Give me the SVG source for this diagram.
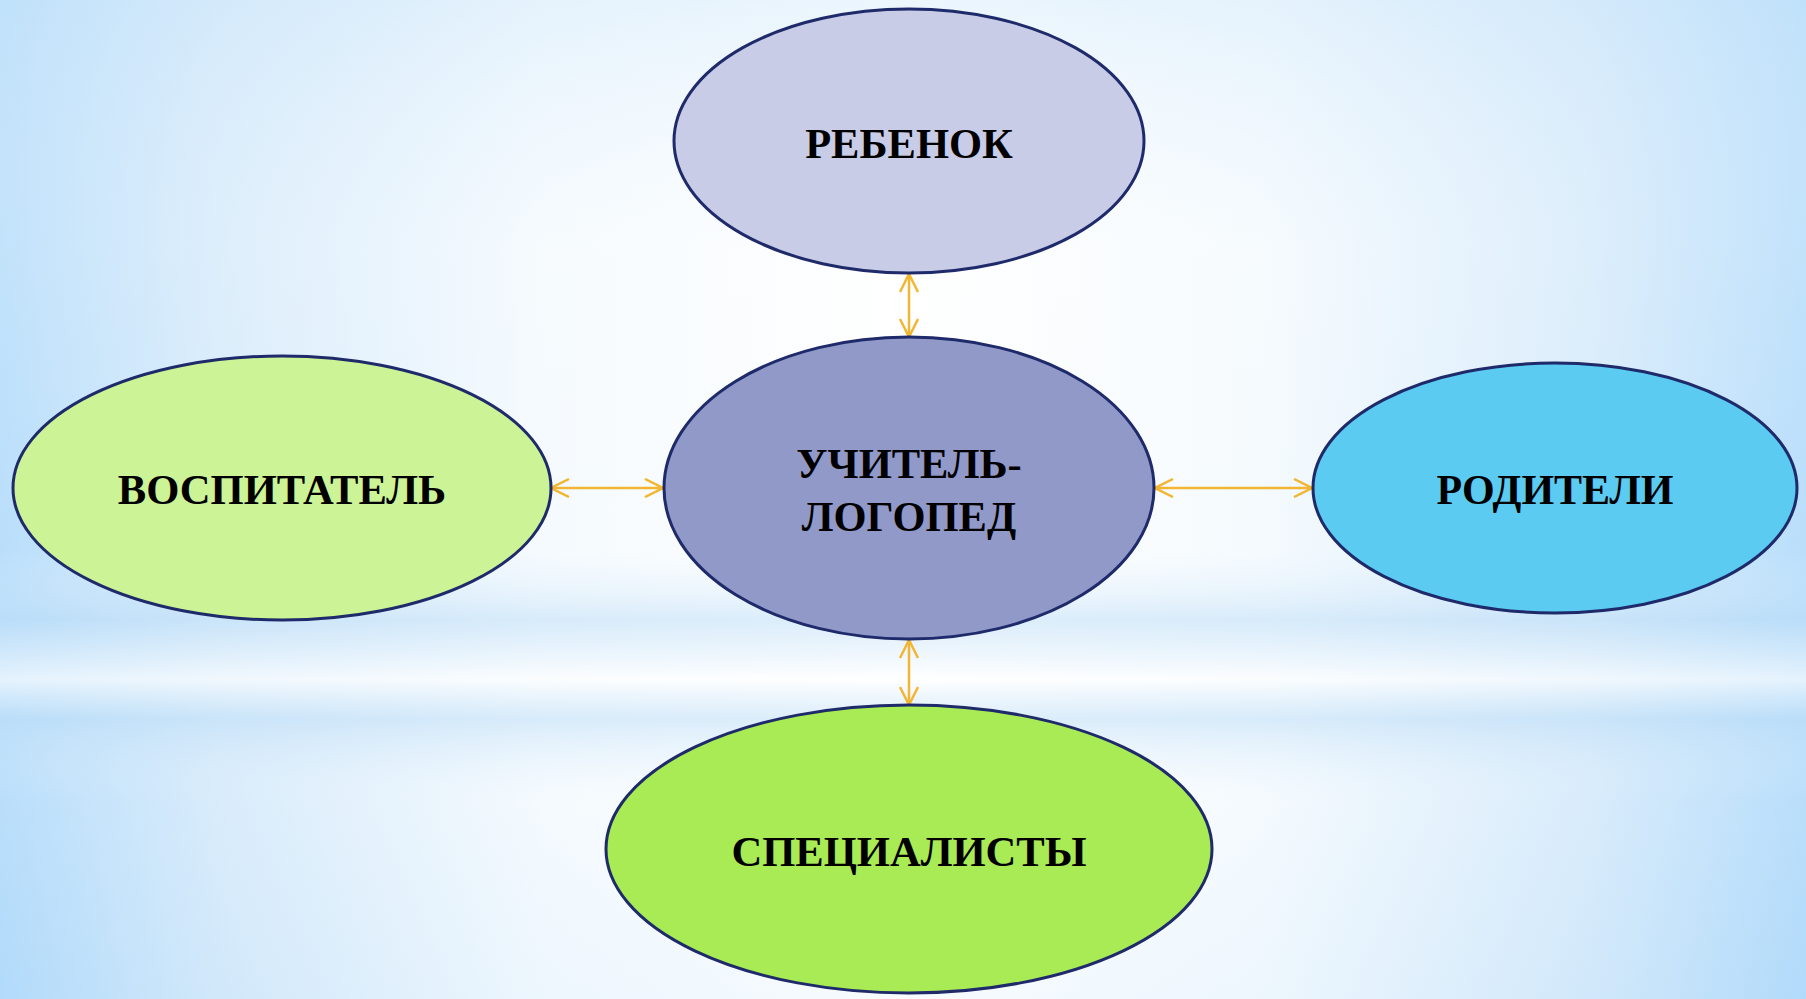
<svg xmlns="http://www.w3.org/2000/svg" width="1806" height="999" viewBox="0 0 1806 999">
<style>
.node{stroke:#1E2A6A;stroke-width:3}
.lbl{font-family:"Liberation Serif","Times New Roman",serif;font-weight:bold;fill:#000;text-anchor:middle}
.conn{stroke:#F2B632;stroke-width:2.5;fill:none;marker-start:url(#arr);marker-end:url(#arr)}
</style>
<defs>
<linearGradient id="bgH" x1="0" y1="0" x2="1" y2="0">
<stop offset="0" stop-color="#A8D6FA"/>
<stop offset="0.12" stop-color="#CFE7FA"/>
<stop offset="0.3" stop-color="#F2F9FE"/>
<stop offset="0.5" stop-color="#FFFFFF"/>
<stop offset="0.7" stop-color="#F2F9FE"/>
<stop offset="0.88" stop-color="#CFE7FA"/>
<stop offset="1" stop-color="#A8D6FA"/>
</linearGradient>
<linearGradient id="bgV" x1="0" y1="0" x2="0" y2="1">
<stop offset="0" stop-color="#D8ECFB" stop-opacity="0.5"/>
<stop offset="0.25" stop-color="#FFFFFF" stop-opacity="0.3"/>
<stop offset="0.55" stop-color="#FFFFFF" stop-opacity="0.2"/>
<stop offset="0.62" stop-color="#C6E2F8" stop-opacity="0.6"/>
<stop offset="0.68" stop-color="#FFFFFF" stop-opacity="0.7"/>
<stop offset="0.72" stop-color="#C6E2F8" stop-opacity="0.6"/>
<stop offset="0.8" stop-color="#FFFFFF" stop-opacity="0.2"/>
<stop offset="1" stop-color="#D8ECFB" stop-opacity="0.2"/>
</linearGradient>
<marker id="arr" viewBox="0 0 20 20" refX="19" refY="10" markerWidth="20" markerHeight="20" markerUnits="userSpaceOnUse" orient="auto-start-reverse">
<path d="M1,1 L19,10 L1,19" fill="none" stroke="#F2B632" stroke-width="2.5"/>
</marker>
</defs>
<rect width="1806" height="999" fill="url(#bgH)"/>
<rect width="1806" height="999" fill="url(#bgV)"/>
<g id="connectors">
<line class="conn" x1="909" y1="274" x2="909" y2="337"/>
<line class="conn" x1="551" y1="488" x2="663" y2="488"/>
<line class="conn" x1="1155" y1="488" x2="1312" y2="488"/>
<line class="conn" x1="909" y1="640" x2="909" y2="705"/>
</g>
<g id="node-rebenok">
<ellipse class="node" cx="909" cy="141" rx="235" ry="132" fill="#C8CCE6"/>
<text class="lbl" x="909" y="158" font-size="42.5">РЕБЕНОК</text>
</g>
<g id="node-logoped">
<ellipse class="node" cx="909" cy="488" rx="245" ry="151" fill="#9199C9"/>
<text class="lbl" x="909" y="478" font-size="42.5">УЧИТЕЛЬ-</text>
<text class="lbl" x="909" y="531" font-size="42.5">ЛОГОПЕД</text>
</g>
<g id="node-vospitatel">
<ellipse class="node" cx="282" cy="488" rx="269" ry="132" fill="#CCF396"/>
<text class="lbl" x="282" y="504" font-size="42.6">ВОСПИТАТЕЛЬ</text>
</g>
<g id="node-roditeli">
<ellipse class="node" cx="1555" cy="488" rx="242" ry="125" fill="#5BCBF2"/>
<text class="lbl" x="1555" y="504" font-size="42">РОДИТЕЛИ</text>
</g>
<g id="node-specialisty">
<ellipse class="node" cx="909" cy="849" rx="303" ry="144" fill="#A8EB55"/>
<text class="lbl" x="909" y="866" font-size="42.6">СПЕЦИАЛИСТЫ</text>
</g>
</svg>
